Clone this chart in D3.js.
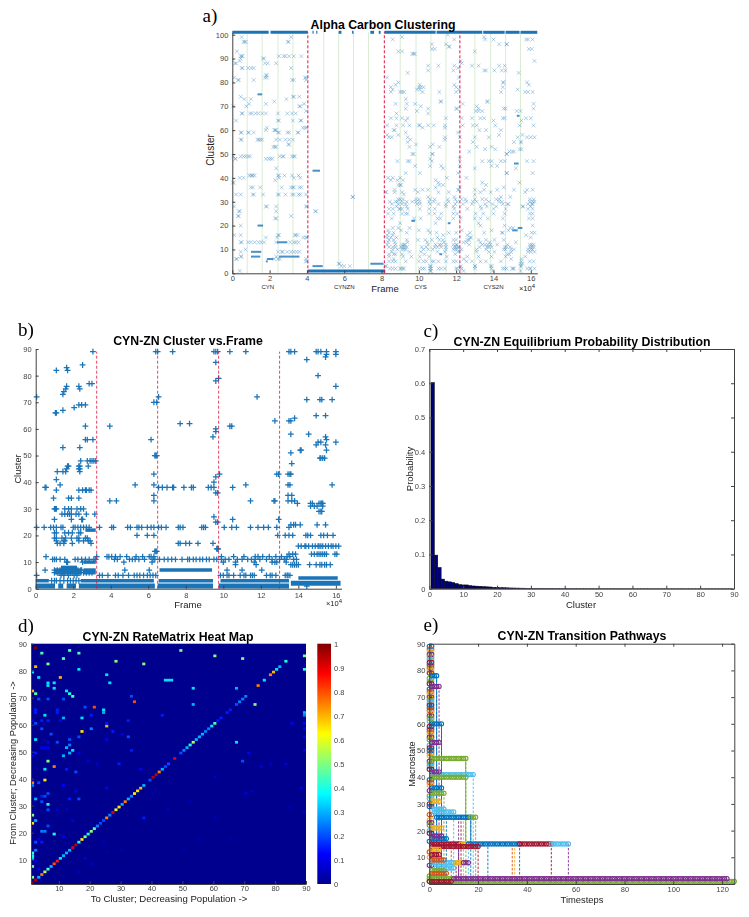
<!DOCTYPE html>
<html>
<head>
<meta charset="utf-8">
<script src="https://cdn.jsdelivr.net/npm/d3@7"></script>
<style>
  html, body { margin: 0; padding: 0; background: #fff; }
  svg { display: block; }
  text { font-family: "Liberation Sans", Arial, sans-serif; }
  .tick text { font-size: 7.5px; fill: #444; font-family: "Liberation Sans", Arial, sans-serif; }
</style>
</head>
<body>
<div id="chart"></div>
<script>
// -- panel a: cluster, frames (x 1e4)
let alphaBands = [
  [101, 0, 1.95], [101, 2.05, 4.05], [101, 4.3, 4.36], [101, 4.5, 4.56], [101, 5.7, 5.85], [101, 6.42, 6.5], [101, 7.4, 7.6], [101, 7.85, 7.95],
  [101, 8.15, 10.9], [101, 10.95, 13.4], [101, 13.45, 14.6], [101, 14.65, 15.4], [101, 15.45, 16.35],
  [1, 4.05, 8.2]
]
let alphaRuns = [
  [3, 4.3, 4.85], [4, 7.4, 8.1], [6, 1.85, 2.2], [5, 1.8, 1.9], [43, 4.3, 4.7], [20, 1.35, 1.65], [75, 1.35, 1.6],
  [9, 1, 1.55], [7, 1, 1.5], [13, 2.4, 2.95], [7, 2.5, 3.6], [66, 15.25, 15.4], [46, 15.1, 15.35], [19, 15.3, 15.55],
  [18, 15, 15.3], [21, 11.55, 11.7], [22, 9.6, 9.8], [8, 11.1, 11.25]
]
let alphaRows = [
  [100, [11.55]], [99, [.5, 3.15, 9.1, 13.5]], [98, [8.6, 11.9, 13.55, 14, 15.75, 15.85, 16.1]],
  [97, [.6, .66, .72, 2.98, 3.02]], [96, [10.7, 11.45, 14.3, 14.7, 14.72]], [95, [11.6, 11.65]],
  [94, [10.7, 10.85, 15.9, 16.05]], [93, [.25, 8.9, 9.1, 13]], [92, [9.65, 9.72, 9.78]],
  [91, [.45, .5, .55, 2.5, 2.75, 2.85, 3.05, 3.3, 3.7]], [90, [.45, 1.65, 1.7]], [89, [.4, 12.25, 16.2]],
  [88, [.15, .2, 1.75, 1.9, 2.35, 12.3]], [87, [10.5, 11.05, 11.9, 12.85, 13.2, 14.3, 14.6]],
  [86, [.5, .55, .85, 1.02, 1.15, 3.15, 12.1]], [85, [10.5, 11.85, 13.5, 13.6, 14.05, 14.45, 14.65]], [84, [9.4, 15.35]],
  [83, [1.8, 1.85]], [82, [.1, 1.75, 1.85, 3.9, 3.95, 8.3, 12.15]], [81, [.3, .35, 1.15, 3.2, 3.3, 3.95]],
  [80, [8.9, 14.5, 14.55, 15.8]], [79, [8.75, 10.05, 11.9, 15.9]], [78, [8.5, 10, 10.1, 10.25, 12, 14.5]],
  [77, [8.6, 9.9, 10.05, 12.15, 15.3]], [76, [8.5, 9, 9.1, 9.2, 10.2, 11.1, 12, 14.4, 15.7, 15.85, 16.1]],
  [74, [.45, 3.25, 3.3, 3.6]], [73, [.65, 1, 2.9, 9.3]], [72, [2.25, 11.15, 11.2, 13.65, 13.7]],
  [71, [.9, 1.8, 3.85, 8.75, 9.35, 9.8, 12.35, 16.15]], [70, [.05, .75, 3.6, 3.65, 10.1, 13.1]],
  [69, [9.3, 10.5, 12, 12.05, 13.2, 14.55, 14.65, 16.15]], [68, [3.95, 9.9, 13.05, 13.2, 13.4, 15.25, 15.45]],
  [67, [.5, .55, .95, 1.05, 1.25, 1.4, 1.6, 1.8, 2.45, 2.95, 3.2, 3.4, 8.8, 10.5]],
  [65, [8.5, 8.8, 9.1, 9.4, 11.45, 12.3, 12.85, 13.3, 13.5, 14.5, 14.6, 15.75, 16]],
  [64, [.2, 2.45, 2.5, 3.25, 3.65, 3.7, 9.3, 14, 15.5]],
  [62, [8.3, 8.8, 9.15, 9.5, 10, 10.05, 10.5, 10.8, 11.4, 12.35, 12.9, 13.1, 14.1, 15.4, 16.15]],
  [61, [1.85, 3.78, 3.9, 3.98, 11.4, 10.2]], [60, [2.25, 2.3, 2.35, 1.8, 8.65, 8.7, 13.6, 13.25, 14.4]],
  [59, [.45, .5, .85, .88, 1.15, 2.45, 2.5, 2.95, 3.05, 3.5, 3.55, 9.3, 12.1]],
  [58, [8.3, 14.3, 15.55, 8.9]], [57, [8.4, 8.55, 9.4, 11.4, 12.2, 13, 13.75, 15.3, 15.8, 16, 16.2]],
  [56, [.45, .5, 1.35, 1.42, 1.5, 1.6, 2.35, 2.55, 2.85, 3.05, 3.25, 9.55, 11.4]],
  [55, [9.4, 12.9, 15.1, 15.45, 15.5]], [54, [3, 3.05, 10.75, 9.85]], [53, [2.2, 2.28, 2.35, 9.5, 10.6, 13.1, 13.9, 11.1]],
  [52, [13.55, 14.1, 15.4, 15.5]], [51, [14.85, 15, 15.1, 12.7]], [50, [9.65, 9.72, 10.7, 10.75, 14.7, 14.72]],
  [49, [.05, .45, .6, .72, .85, .95, 2.55, 2.7, 2.75, 3.2, 3.3, 3.35]],
  [48, [.15, .18, 1.8, 1.95, 2.05, 2.15, 12.2, 10.6]],
  [47, [8.85, 9.4, 9.5, 10.7, 13.4, 13.75, 13.9, 14.4, 14.6, 15.8, 16.15]],
  [45, [11.2, 12.2, 13.9, 14.2, 9.8, 10.6]], [44, [2.35, 11.3, 13, 15.2]],
  [42, [10.05, 14.7, 14.72, 16.1, 12.1, 9.3]],
  [41, [.9, 1, 1.05, 1.1, 1.2, 2.45, 2.5, 2.8, 3.2, 3.55]], [40, [.4, .6, 2.5, 3.3, 3.65, 8.35, 8.6, 9, 11.5, 12.55]],
  [39, [2.3, 8.5, 8.85, 9.15, 10.9]], [38, [.03, .08, 11.05, 13.4, 15.4]],
  [37, [8.9, 9, 9.05, 11.1, 11.3, 13.6]],
  [36, [1, 1.1, 1.5, 2.65, 3.15, 3.25, 3.3, 3.6, 3.7, 10.9, 12.2, 14.55]],
  [35, [8.7, 9.8, 10.2, 10.5, 12.1, 12.15, 13, 13.5, 14.2, 15.1, 15.8, 16.1]],
  [34, [8.2, 8.25, 8.7, 9.1, 9.95, 11.05, 11.6, 13.3, 13.85, 15.7]],
  [33, [.2, .45, 1.1, 1.15, 1.65, 2.45, 2.5, 2.85, 3.2, 3.3, 3.55, 3.65, 3.95, 9.2, 13]],
  [32, [6.45, 6.47, 10.5, 14.4, 14.9, 11.9]],
  [31, [8.9, 9, 9.15, 9.85, 10, 10.6, 10.85, 11.55, 11.95, 12.3, 12.5, 13, 13.4, 13.6, 14.15, 14.3, 15.95, 16.15]],
  [30, [8.45, 8.75, 8.85, 9.1, 9.35, 9.65, 9.85, 10.05, 10.55, 10.8, 11.6, 12.05, 12.55, 12.9, 13.1, 13.75, 14.3, 14.45, 15.95, 16.1, 16.2]],
  [29, [8.55, 8.9, 9.1, 9.3, 9.9, 10.05, 10.6, 11.05, 11.45, 11.95, 12.35, 12.85, 13.55, 13.95, 14.5, 14.75, 14.8, 15.85, 16.05, 16.1]],
  [28, [.1, 1.8, 1.85, 2.35, 3.95, 4, 8.8, 9.35, 11.45, 11.85, 13.3, 13.65, 14.15, 15.55, 15.6, 16]],
  [27, [8.4, 8.6, 8.95, 9, 9.1, 9.4, 10.05, 10.55, 10.85, 11.9, 12.6, 13.35, 14, 14.65, 15.85, 16.1]],
  [26, [.35, .4, 4.45, 4.48, 2.35]],
  [25, [8.35, 8.65, 9.1, 9.3, 9.4, 10.55, 10.85, 11.2, 11.85, 12.05, 13.05, 13.45, 14, 14.6, 15.95, 16.1]],
  [24, [.3, .35, 3.15]], [23, [2.3, 2.35, 8.55, 9.75, 10.1, 11, 11.15, 11.85, 12.25, 13, 13.3, 13.7, 14.5, 15.9, 16.1]],
  [21, [9, 10.9, 13.2]], [20, [.45, 13.3, 14.6, 16.1]],
  [19, [8.6, 8.9, 9.5, 14.9, 15.05]], [18, [8.35, 9.05, 10, 10.5, 12.3, 13.9, 14.8]],
  [17, [8.4, 8.65, 9.35, 10.6, 10.95, 11.6, 12, 12.75, 13.5, 14.45, 14.5, 16.05, 16.2]],
  [16, [.1, .45, 2.45, 2.5, 3.35, 3.4, 3.5, 8.3, 8.6, 11.3, 12.6, 15.75]],
  [15, [1.8, 2.4, 3.8, 3.95, 4, 8.3, 8.5, 8.8, 11, 12.75, 12.8, 16]],
  [14, [8.4, 8.65, 9.35, 9.95, 10.35, 10.7, 11.1, 11.3, 11.85, 12, 12.6, 12.7, 13.2, 13.6, 14.05, 14.55]],
  [13, [.45, .5, .85, 1, 1.2, 1.4, 1.55, 1.7, 2.35, 3.1, 3.3, 3.4, 3.55, 8.35, 8.7, 9.4, 10.45, 11.35, 12.4, 12.55, 13.3, 13.8, 15.2]],
  [12, [8.3, 8.75, 9.1, 9.2, 9.25, 10.5, 10.9, 11.1, 11.2, 11.45, 11.85, 12, 12.05, 12.7, 13.4, 13.55, 13.7, 13.85, 14.2, 14.75, 15.95, 16.05, 16.15]],
  [11, [8.4, 8.6, 8.75, 9.05, 9.15, 9.25, 9.35, 10.15, 10.4, 10.85, 11, 11.2, 11.45, 11.9, 12, 12.1, 13.25, 13.65, 13.75, 13.9, 14.6, 14.7, 14.9, 15.95, 16.05, 16.15]],
  [10, [.7, 8.6, 8.85, 9.1, 9.2, 9.3, 10.25, 10.5, 10.75, 11.45, 11.85, 11.95, 12.05, 12.2, 12.3, 13.1, 13.6, 14.55, 14.65, 14.95, 15.1, 15.85, 16, 16.1]],
  [9, [.45, 2.45, 2.65, 2.7, 2.95, 3.15, 3.3, 3.45, 3.6, 8.55, 9.5, 10.1, 11, 11.4, 12.1, 13.1, 13.75, 14.05, 14.95, 15.85, 16, 16.2]],
  [8, [8.4, 8.65, 8.75, 9.1, 10.3, 11.95, 14.75, 14.85]],
  [7, [.45, .5, 2.35, 8.4, 9.15, 9.6, 10.05, 10.55, 11.5, 12.6, 13.2, 13.9, 14.65, 15.7]],
  [6, [.2, .25, 2.25, 2.45, 2.55, 3.95, 12.4, 8.65, 15.5, 14.95]],
  [5, [3.95, 4, 8.4, 8.6, 8.75, 9.3, 10, 10.25, 10.4, 10.7, 10.8, 11.05, 11.45, 11.85, 12, 12.55, 12.85, 13.3, 13.6, 14.4, 15.5, 15.95, 16.15]],
  [4, [5.7, 5.75, 15.45, 15.55]], [3, [5.85, 6, 6.3, 8.2, 8.25, 10.6, 10.65, 12.25, 13, 13.02, 13.85, 13.9, 15.45, 15.5]],
  [2, [8.45, 8.6, 8.75, 9, 9.05, 9.15, 9.2, 10.05, 10.2, 10.3, 10.6, 10.65, 11.05, 11.2, 11.4, 12, 12.05, 12.2, 12.3, 13, 13.9, 14.5, 14.6, 14.7, 15, 15.05, 15.1, 15.8, 15.95, 16, 16.2]],
  [1, [.4, 10.6, 10.65, 12.4, 13.95, 15.45]]
]
let alphaGreenLines = [.8, 1.6, 2.45, 3.25, 4.9, 5.7, 6.5, 7.3, 9, 9.85, 10.65, 11.45, 13, 13.85, 14.65, 15.45]
let alphaRedLines = [4.05, 8.15, 12.2]
let alphaSystems = [[1.9, 'CYN'], [6, 'CYNZN'], [10.1, 'CYS'], [14, 'CYS2N']]

// -- panel b
let frameBands = [
  [1, 0, 1.03], [1, 1.2, 1.47], [1, 1.65, 2.15], [1, 2.3, 6.35], [1, 6.5, 9.45], [1, 9.75, 13.5], [2, 13.6, 16.25]
]
let frameRuns = [
  [3, 0, .7], [3, 2.4, 6.3], [3, 6.55, 9.45], [3, 9.85, 13.5], [7, 6.6, 9.4], [22, 2.65, 3.2], [10, 2.55, 3.2],
  [7, 2.55, 3.2], [8, 1.35, 2.2], [6, 1, 2.45], [7, 1, 2.45], [6, 2.55, 3.2], [4, 14, 16.1]
]
let frameRows = [
  [89, [3.05, 6.4, 6.5, 7.3, 9.5, 9.6, 9.7, 10.35, 11.2, 13.5, 13.6, 13.8, 14.95, 15.05, 15.2, 15.5, 16]],
  [88, [15.5, 16]], [87, [15.45]], [86, [14.45]], [85, [9.6]], [84, [2.5]], [83, [1.65]], [82, [1.1, 1.7]], [80, [15.05]], [79, [9.75]], [78, [9.6]],
  [77, [2.85, 3]], [76, [1.65, 2.3, 16]], [75, [1.6, 2.35]], [74, [1.5]], [73, [1.45]], [72, [.05, 6.55, 11.8]],
  [71, [14.45, 15.15, 15.25, 15.8]], [70, [6.3, 6.45]], [69, [2.3, 2.45, 2.65]], [68, [2.05]], [67, [1.45]], [66, [1.05, 1.1]],
  [65, [14.95, 15.45]], [64, [13.8]], [63, [12.75, 13.5, 13.6]], [62, [7.7, 8.2]], [61, [2.65, 3.95, 10.35, 10.45]],
  [60, [9.6]], [59, [9.6]], [58, [13.6, 14.55]], [57, [9.45, 15.45]], [56, [2.65, 2.75, 3.05, 6.15, 15.5]], [55, [15.05, 15.2, 16]],
  [54, [14.95, 15.45]], [53, [1.45, 2.35]], [52, [14.1, 14.15, 15.5]], [51, [13.6]], [50, [6.35, 6.4, 6.45]],
  [49, [15.15, 15.2, 15.3, 15.4]], [48, [2.4, 2.75, 2.9, 3, 3.1, 3.2]], [47, [13.65]], [46, [1.7, 1.75, 2.3, 2.35, 2.8]],
  [45, [1.65, 2.3, 2.35]], [44, [1.15, 1.45, 1.6, 2.35]], [43, [6.3, 9.8, 12.85, 12.95, 13.45, 13.55, 13.6]], [42, [9.6]], [41, [1.1]], [40, [9.5]],
  [39, [1.3, 5.3, 6.3, 11.2, 13.45, 13.55, 15.8]], [38, [.5, .55, 6.55, 6.75, 7, 7.3, 7.35, 7.9, 8.3, 8.4, 9.2, 9.35, 9.5, 10.5]],
  [37, [1.1, 2.3, 2.5, 2.65, 2.7, 2.85, 2.95]], [36, [9.6, 9.7]], [35, [6.3, 13.45, 13.65]], [34, [.95, 1.75, 1.9, 2.3]],
  [33, [3.95, 4.3, 6.3, 11.45, 12.7, 12.75, 13.45, 13.65, 13.8]], [32, [14.65, 14.75, 15.1, 15.2, 15.25, 15.3, 13.95]],
  [31, [14.65, 14.85, 15, 15.3]], [30, [1, 1.05, 1.1, 1.55, 1.75, 1.9, 2.2, 2.4, 2.55]], [29, [15.1, 15.2, 15.25]],
  [28, [1.4, 1.55, 1.7, 1.8, 1.9, 2.15, 2.3, 2.7, 3.15]], [27, [9.5]], [26, [1, 1.9, 2.45, 2.5, 10.5, 12.95]], [25, [9.6, 9.7]],
  [24, [13.6, 13.75, 13.85, 14.1, 15, 15.45]],
  [23, [.05, .45, .8, .95, 1.1, 1.35, 1.45, 2, 2.1, 2.25, 2.4, 2.55, 2.7, 2.85, 3.4, 4.05, 4.15, 4.9, 5.05, 5.4, 5.5, 5.65, 5.95, 6.15, 6.3, 6.55, 6.7, 6.95, 7.6, 7.7, 7.85, 8.85, 8.95, 9.05, 10.05, 10.45, 10.7, 11.45, 11.85, 12.15, 12.4, 12.85, 13.5]],
  [21, [1, 1.1, 1.55, 1.75, 1.95, 2.3, 2.4]],
  [20, [5.4, 5.95, 6.3, 12.9, 13.3, 13.5, 13.7, 14.4, 14.5, 14.65, 15.2, 15.35, 15.55, 15.85]],
  [19, [1, 1.1, 1.4, 1.6, 1.9, 2.2, 2.3, 2.65, 2.75]], [18, [1.1, 1.5, 1.55, 2.3, 2.55, 2.8, 2.9]],
  [17, [1.15, 1.3, 1.5, 1.95, 2.95, 7.6, 7.7, 8, 8.2, 8.65, 9.45]],
  [16, [14, 14.15, 14.35, 14.4, 14.55, 14.75, 14.9, 15.05, 15.1, 15.2, 15.3, 15.45, 15.6, 15.75, 15.85, 16, 16.15]],
  [15, [9.65, 9.7, 9.72]], [14, [6.35, 6.4, 6.45]],
  [13, [13.5, 13.7, 13.85, 14.7, 14.85, 15, 15.1, 15.2, 15.3, 15.4, 15.5, 15.95, 16.05]],
  [12, [.55, 3.25, 3.8, 3.9, 4.05, 4.25, 4.5, 4.85, 5.35, 5.7, 6.05, 6.15, 6.3, 9.9, 10.55, 11.1, 11.7, 11.85, 12.1, 12.45, 12.8, 13.1, 13.4, 13.55]],
  [11, [.9, 1, 1.1, 1.3, 1.55, 2.1, 2.25, 2.45, 2.65, 2.85, 3.1, 3.2, 4.2, 4.35, 5, 5.15, 5.3, 5.5, 5.8, 6.25, 6.35, 6.6, 6.85, 7.05, 7.25, 7.45, 7.8, 8.1, 8.2, 8.4, 8.55, 8.75, 8.9, 9.1, 9.25, 9.5, 9.65, 9.9, 10.1, 10.3, 10.75, 11, 11.3, 11.5, 11.7, 11.95, 12.3, 12.6, 13, 13.25, 13.35, 13.75, 13.9]],
  [10, [1.65, 1.7, 2.5, 4.7, 6.2, 10, 10.65, 11.65, 12.6, 12.75, 12.85, 13.35]],
  [9, [13.6, 13.7, 13.8, 13.9, 14, 14.6, 14.95, 15.15, 15.25, 15.4, 15.5, 15.7, 10.65, 11.75]],
  [7, [.5, 1, 1.15, 1.3, 1.5, 1.65, 1.8, 1.95, 2.1, 2.25, 2.4, 2.45, 4.75, 6.05, 10.2, 11, 12.05]],
  [6, [1, 1.15, 1.3, 1.45, 1.55, 1.7, 1.85, 1.95, 2.1, 2.2, 2.3, 2.4, 2.55, 2.7, 2.85, 3]],
  [5, [.05, 1.35, 1.5, 1.75, 2.05, 2.2, 3.4, 3.55, 3.85, 4.25, 4.4, 4.65, 4.95, 5.25, 5.4, 5.55, 5.75, 5.95, 6.1, 6.25, 6.4, 9.85, 10, 10.2, 10.3, 10.55, 10.9, 11.1, 11.2, 11.45, 11.55, 11.65, 12.3, 12.5, 12.6, 12.8, 13.3, 13.4, 13.45, 13.55]],
  [3, [.85, 1, 1.1, 1.3, 1.5, 1.7, 1.85, 2, 2.15, 2.3]],
  [1, [14.45]]
]
let frameRedLines = [3.25, 6.5, 9.75, 13]

// -- panel c, cluster 1 upward
let probabilities = [
  .602, .098, .062, .028, .022, .02, .018, .015, .012, .011, .011, .009, .008, .0075, .007, .006, .0055, .005, .004, .0035,
  .003, .0028, .0025, .0022, .002, .0018, .0016, .0015, .0013, .0012, .0011, .001, .0009, .0009, .0008, .0008, .0007, .0007, .0006, .0006,
  .0006, .0005, .0005, .0005, .0005, .0004, .0004, .0004, .0004, .0003, .0003, .0003, .0003, .0003, .0003, .0002, .0002, .0002, .0002, .0002,
  .0002, .0002, .0002, .0002, .0001, .0001, .0001, .0001, .0001, .0001, .0001, .0001, .0001, .0001, .0001, .0001, .0001, .0001, .0001, .0001,
  .0001, .0001, .0001, .0001, .0001, .0001, .0001, .0001, .0001
]

// -- panel d: [to, from, value]
let rateDiagonal = [
  1, .95, .3, .75, .55, .45, .3, .8, .85, .35, .3, .3, .3, .9, .95, .4, .65, .5, .4, .5, .45, .25, .2, .2, .75, .25, .9, .6, .65, .3,
  .75, .3, .25, .65, .65, .7, .3, 0, .2, .95, .95, .75, .3, .2, .2, 0, .9, 0, .2, .25, .3, .4, .55, .3, .3, .3, .25, .25, .35, .45,
  .15, .15, 0, .15, .15, 0, .2, .25, .25, .25, 0, 0, 0, .75, 0, .35, 0, .75, .7, .35, .3, 0, .4
]
let rateCells = [
  [2, 88, 1], [4, 86, .45], [6, 82, .5], [13, 87, .45], [16, 86, .45], [11, 84, .45], [28, 83, .5], [37, 82, .5], [49, 87, .5], [60, 85, .5], [69, 84, .5],
  [89, 85, .5], [89, 80, .4], [2, 81, .7], [1, 79, .35], [16, 80, .35], [25, 78, .35], [26, 75, .35], [3, 77, .35], [10, 77, .7],
  [6, 75, .35], [6, 74, .35], [8, 75, .35], [8, 73, .35], [44, 76, .35], [45, 76, .35], [46, 76, .35], [1, 72, .7], [2, 71, .45],
  [12, 72, .35], [13, 71, .4], [14, 70, .45], [3, 69, .2], [6, 69, .2], [11, 69, .2], [33, 70, .2], [34, 68, .8], [53, 73, .35], [53, 67, .3], [67, 73, .3], [73, 67, .5],
  [18, 66, .2], [21, 66, .8], [20, 63, .15], [24, 65, .35], [24, 64, .3], [25, 59, .7], [2, 65, .15], [2, 64, .15], [9, 65, .15], [9, 64, .15],
  [5, 63, .35], [11, 62, .3], [17, 62, .35], [43, 63, .15], [32, 61, .15], [1, 61, .1], [2, 60, .2], [4, 61, .15], [6, 61, .15], [10, 61, .12], [25, 60, .15],
  [4, 58, .2], [20, 58, .25], [17, 57, .65], [27, 57, .15], [16, 55, .2], [30, 56, .1], [32, 55, .2], [25, 54, .12], [2, 54, .35], [7, 56, .2], [9, 53, .2], [6, 53, .1],
  [13, 54, .2], [13, 52, .25], [12, 51, .3], [14, 50, .35], [13, 49, .3], [11, 48, .3], [4, 51, .1], [5, 51, .1], [6, 51, .12], [1, 48, .1], [2, 49, .15], [16, 49, .1], [33, 50, .15],
  [6, 46, .5], [8, 44, .75], [5, 43, .35], [12, 43, .15], [15, 42, .2], [29, 45, .15], [36, 43, .12], [19, 46, .08], [22, 45, .06],
  [69, 46, .2], [67, 53, .35], [71, 49, .12], [75, 44, .08], [78, 45, .06], [83, 45, .08], [85, 60, .12], [89, 64, .3], [89, 63, .25], [89, 60, .12], [89, 58, .12], [89, 55, .1], [89, 50, .1],
  [1, 38, .75], [1, 37, .25], [5, 39, .65], [3, 38, .2], [11, 37, .12], [4, 33, .15], [2, 32, .3], [6, 34, .2], [5, 33, .2], [4, 31, .2], [6, 30, .4], [6, 28, .2], [13, 32, .15], [16, 32, .2], [15, 35, .1], [25, 36, .12],
  [1, 26, .5], [1, 23, .65], [2, 24, .3], [6, 22, .2], [4, 20, .25], [5, 20, .25], [8, 19, .4], [11, 18, .12], [2, 16, .2], [4, 16, .15], [3, 17, .12],
  [2, 13, .25], [1, 12, .45], [1, 11, .4], [1, 10, .35], [1, 7, .5], [1, 3, .5], [2, 9, .1], [3, 6, .1], [37, 25, .15], [9, 28, .08], [14, 24, .08], [12, 28, .06],
  [18, 10, .07], [20, 8, .06], [30, 13, .04], [24, 16, .04], [45, 28, .05], [50, 13, .03], [60, 25, .05], [70, 34, .07], [72, 35, .05], [60, 40, .05], [52, 31, .04], [65, 17, .03], [55, 17, .03], [40, 34, .04], [25, 12, .03], [88, 36, .08], [89, 27, .06], [84, 29, .04], [16, 5, .05]
]
let rateTicks = [10, 20, 30, 40, 50, 60, 70, 80, 90]
let colorbarTicks = [0, .1, .2, .3, .4, .5, .6, .7, .8, .9, 1]

// -- panel e: [macrostate, first step, last step, color index]
let pathwayRuns = [
  [1, 0, 125, 4], [2, 0, 10, 4], [2, 10, 122, 3], [1, 0, 9, 6], [47, 1, 15, 4], [41, 1, 18, 5], [40, 1, 15, 4], [25, 3, 17, 0], [25, 17, 19, 4], [27, 2, 10, 5], [28, 2, 6, 5],
  [15, 1, 13, 6], [15, 13, 16, 2], [15, 16, 37, 0], [15, 37, 50, 6], [15, 50, 57, 5], [14, 1, 20, 6], [60, 1, 5, 0], [53, 1, 4, 3], [74, 1, 4, 3], [78, 1, 3, 0], [42, 1, 4, 3], [36, 1, 5, 0],
  [34, 1, 6, 4], [31, 1, 4, 2], [21, 1, 5, 2], [17, 1, 7, 0], [18, 1, 5, 3], [8, 1, 11, 5], [8, 11, 14, 2], [8, 14, 16, 3], [6, 3, 10, 5], [5, 1, 6, 4], [4, 1, 7, 1], [11, 1, 4, 6], [9, 1, 6, 1], [13, 1, 4, 2]
]
let pathwayStack = [
  89, 88, 87, 86, 85, 84, 83, 82, 81, 80, 79, 77, 76, 75, 73, 72, 71, 70, 69, 68, 67, 66, 65, 64, 63, 62, 61, 59, 58, 57, 56, 55, 54, 52, 51, 50, 49, 48, 46, 45, 44, 43, 39, 38, 37,
  35, 33, 32, 30, 29, 26, 24, 23, 22, 20, 19, 16, 12, 10, 7, 3
]
// -- [step, top state, color index]
let pathwayDrops = [
  [57, 15, 3], [50, 15, 6], [37, 15, 0], [35, 15, 2], [34, 15, 1], [24, 14, 0], [20, 14, 6], [19, 25, 4], [18, 41, 5], [17, 25, 0], [15, 47, 4], [16, 15, 5], [14, 25, 2],
  [13, 25, 6], [12, 25, 3], [10, 27, 5], [7, 25, 0], [5, 60, 0], [4, 74, 3], [3, 78, 0], [6, 34, 4], [9, 14, 1], [11, 8, 6]
]
// -- [step, top state, bottom state, color index]
let pathwaySolid = [[14.9, 47, 15, 4], [5, 60, 0, 0], [3, 78, 0, 0], [17, 25, 15, 0], [12, 15, 2, 3]]
let pathwayColors = ['#0072BD', '#D95319', '#EDB120', '#7E2F8E', '#77AC30', '#4DBEEE', '#A2142F']

let blue = '#1a74b8'
let axisColor = '#404040'

let svg = d3.select('#chart').append('svg')
            .attr('width', 749)
            .attr('height', 917)

svg.append('rect').attr('width', 749).attr('height', 917).attr('fill', '#fff')

function addText(label, x, y, size, extra) {
  let t = svg.append('text')
             .attr('x', x)
             .attr('y', y)
             .attr('text-anchor', 'middle')
             .attr('font-size', size)
             .attr('fill', '#222')
             .text(label)
  if (extra) extra(t)
  return t
}

function addTitle(label, x, y) {
  addText(label, x, y, 12.3, t => t.attr('font-weight', 'bold').attr('fill', '#000'))
}

function addYLabel(label, x, y, size) {
  addText(label, 0, 0, size, t => t.attr('transform', 'translate(' + x + ',' + y + ') rotate(-90)'))
}

function addPanelLetter(label, x, y) {
  addText(label, x, y, 19, t => t.style('font-family', '"Liberation Serif", serif').attr('fill', '#000'))
}

function addExponent(x, y) {
  let t = addText('×10', x, y, 7.5)
  t.append('tspan').attr('dy', -3).attr('font-size', 6).text('4')
}

function drawAxes(x, y, xValues, yValues, xFormat, yFormat, box, xPadding) {
  let xr = x.range(), yr = y.range()
  let xAxis = d3.axisBottom(x).tickValues(xValues).tickFormat(xFormat).tickSizeInner(-3).tickSizeOuter(0).tickPadding(xPadding)
  let yAxis = d3.axisLeft(y).tickValues(yValues).tickFormat(yFormat).tickSizeInner(-3).tickSizeOuter(0).tickPadding(4)
  svg.append('g').attr('transform', 'translate(0,' + yr[0] + ')').call(xAxis)
  svg.append('g').attr('transform', 'translate(' + xr[0] + ',0)').call(yAxis)
  if (box) {
    svg.append('g').attr('transform', 'translate(0,' + yr[1] + ')')
       .call(d3.axisTop(x).tickValues(xValues).tickFormat('').tickSizeInner(-3).tickSizeOuter(0))
    svg.append('g').attr('transform', 'translate(' + xr[1] + ',0)')
       .call(d3.axisRight(y).tickValues(yValues).tickFormat('').tickSizeInner(-3).tickSizeOuter(0))
  }
  svg.selectAll('.domain, .tick line').attr('stroke', axisColor)
}

let plusPath = d3.symbol(d3.symbolPlus, 13)()
let timesPath = d3.symbol(d3.symbolTimes, 11)()

function flattenRows(rows) {
  return rows.flatMap(row => row[1].map(v => ({ cluster: row[0], frame: v })))
}

// -- panel a ---------------------------------------------------------------
let xA = d3.scaleLinear().domain([0, 16.35]).range([232.3, 537.3])
let yA = d3.scaleLinear().domain([0, 101]).range([273.3, 32.3])
let gA = svg.append('g').style('filter', 'blur(0.45px)')

gA.selectAll('.green').data(alphaGreenLines).enter().append('line')
  .attr('x1', d => xA(d)).attr('x2', d => xA(d))
  .attr('y1', yA(0)).attr('y2', yA(101))
  .attr('stroke', '#cfe8c8').attr('stroke-width', .8)

gA.selectAll('.band').data(alphaBands).enter().append('line')
  .attr('x1', d => xA(d[1])).attr('x2', d => xA(d[2]))
  .attr('y1', d => yA(d[0])).attr('y2', d => yA(d[0]))
  .attr('stroke', blue).attr('stroke-width', 3)

gA.selectAll('.run').data(alphaRuns).enter().append('line')
  .attr('x1', d => xA(d[1])).attr('x2', d => xA(d[2]))
  .attr('y1', d => yA(d[0])).attr('y2', d => yA(d[0]))
  .attr('stroke', blue).attr('stroke-width', 2).attr('stroke-opacity', .8)

gA.selectAll('.dot').data(flattenRows(alphaRows)).enter().append('path')
  .attr('d', timesPath)
  .attr('transform', d => 'translate(' + xA(d.frame) + ',' + yA(d.cluster) + ')')
  .attr('fill', 'none').attr('stroke', blue).attr('stroke-width', .8).attr('stroke-opacity', .42)

gA.selectAll('.red').data(alphaRedLines).enter().append('line')
  .attr('x1', d => xA(d)).attr('x2', d => xA(d))
  .attr('y1', yA(0)).attr('y2', yA(101))
  .attr('stroke', '#e0143c').attr('stroke-width', 1).attr('stroke-dasharray', '3,2')

drawAxes(xA, yA, d3.range(0, 17, 2), d3.range(0, 101, 10), d3.format('d'), d3.format('d'), false, 2)
alphaSystems.forEach(s => addText(s[1], xA(s[0]), 289, 6))
addTitle('Alpha Carbon Clustering', 383, 29)
addYLabel('Cluster', 214, 150, 10)
addText('Frame', 385, 292, 9.5)
addExponent(527, 291)
addPanelLetter('a)', 210, 22)

// -- panel b ---------------------------------------------------------------
let xB = d3.scaleLinear().domain([0, 16.3]).range([35.7, 341.5])
let yB = d3.scaleLinear().domain([0, 90]).range([588.7, 349])
let gB = svg.append('g').style('filter', 'blur(0.35px)')

gB.selectAll('.band').data(frameBands).enter().append('line')
  .attr('x1', d => xB(d[1])).attr('x2', d => xB(d[2]))
  .attr('y1', d => yB(d[0])).attr('y2', d => yB(d[0]))
  .attr('stroke', blue).attr('stroke-width', 5)

gB.selectAll('.run').data(frameRuns).enter().append('line')
  .attr('x1', d => xB(d[1])).attr('x2', d => xB(d[2]))
  .attr('y1', d => yB(d[0])).attr('y2', d => yB(d[0]))
  .attr('stroke', blue).attr('stroke-width', 3.5)

gB.selectAll('.dot').data(flattenRows(frameRows)).enter().append('path')
  .attr('d', plusPath)
  .attr('transform', d => 'translate(' + xB(d.frame) + ',' + yB(d.cluster) + ')')
  .attr('fill', 'none').attr('stroke', blue).attr('stroke-width', 1.25)

gB.selectAll('.red').data(frameRedLines).enter().append('line')
  .attr('x1', d => xB(d)).attr('x2', d => xB(d))
  .attr('y1', yB(0)).attr('y2', yB(89))
  .attr('stroke', '#e0143c').attr('stroke-width', .8).attr('stroke-dasharray', '3,2')

drawAxes(xB, yB, d3.range(0, 17, 2), d3.range(0, 91, 10), d3.format('d'), d3.format('d'), false, 4)
addTitle('CYN-ZN Cluster vs.Frame', 188, 345)
addYLabel('Cluster', 21, 469, 9.2)
addText('Frame', 188, 608, 9.5)
addExponent(334, 606)
addPanelLetter('b)', 26, 336)

// -- panel c ---------------------------------------------------------------
let xC = d3.scaleLinear().domain([0, 90]).range([429.3, 734])
let yC = d3.scaleLinear().domain([0, .7]).range([588.7, 349])

svg.selectAll('.prob').data(probabilities).enter().append('rect')
   .attr('x', (d, i) => xC(i + .5))
   .attr('width', xC(1) - xC(0))
   .attr('y', d => yC(d))
   .attr('height', d => yC(0) - yC(d))
   .attr('fill', '#00007a')
   .attr('stroke', '#000')
   .attr('stroke-width', .5)

drawAxes(xC, yC, d3.range(0, 91, 10), d3.range(0, .71, .1), d3.format('d'), d => d ? d3.format('.1f')(d) : '0', true, 3)
addTitle('CYN-ZN Equilibrium Probability Distribution', 582, 346)
addYLabel('Probability', 413, 469, 9.5)
addText('Cluster', 581, 608, 9.5)
addPanelLetter('c)', 431, 337)

// -- panel d ---------------------------------------------------------------
let jet = d3.scaleLinear()
            .domain([0, .125, .375, .625, .875, 1])
            .range(['#00008f', '#0000ff', '#00ffff', '#ffff00', '#ff0000', '#800000'])
let cellIds = d3.range(1, 90)
let xD = d3.scaleBand().domain(cellIds).range([31, 306])
let yD = d3.scaleBand().domain(cellIds).range([884, 643.7])
let xDTicks = d3.scaleLinear().domain([1, 90]).range([31, 306])
let yDTicks = d3.scaleLinear().domain([1, 90]).range([884, 643.7])

svg.append('rect')
   .attr('x', 31).attr('y', 643.7)
   .attr('width', 275).attr('height', 240.3)
   .attr('fill', jet(0))

let gD = svg.append('g').style('filter', 'blur(0.4px)')

gD.selectAll('.cell').data(rateCells).enter().append('rect')
  .attr('x', d => xD(d[0])).attr('y', d => yD(d[1]))
  .attr('width', xD.bandwidth()).attr('height', yD.bandwidth())
  .attr('fill', d => jet(d[2]))

gD.selectAll('.diag').data(rateDiagonal).enter().append('rect')
  .attr('x', (d, i) => xD(i + 1)).attr('y', (d, i) => yD(i + 1))
  .attr('width', xD.bandwidth()).attr('height', yD.bandwidth())
  .attr('fill', d => jet(d))

drawAxes(xDTicks, yDTicks, rateTicks, rateTicks, d3.format('d'), d3.format('d'), false, 2)
addTitle('CYN-ZN RateMatrix Heat Map', 168, 641)
addYLabel('From Cluster; Decreasing Population ->', 16, 763, 9.3)
addText('To Cluster; Decreasing Population ->', 169, 902, 9.6)
addPanelLetter('d)', 26, 632)

// -- colorbar
let yBar = d3.scaleLinear().domain([0, 1]).range([884, 643.7])
let barGradient = svg.append('defs').append('linearGradient')
                     .attr('id', 'jet').attr('x1', 0).attr('x2', 0).attr('y1', 1).attr('y2', 0)
jet.domain().forEach(d => {
  barGradient.append('stop').attr('offset', d).attr('stop-color', jet(d))
})
svg.append('rect')
   .attr('x', 317.3).attr('y', 643.7)
   .attr('width', 13.7).attr('height', 240.3)
   .attr('fill', 'url(#jet)')
svg.append('g').attr('transform', 'translate(331,0)')
   .call(d3.axisRight(yBar).tickValues(colorbarTicks).tickFormat(d => d3.format('.1~f')(d)).tickSize(0).tickPadding(3))
   .call(g => g.select('.domain').remove())

// -- panel e ---------------------------------------------------------------
let xE = d3.scaleLinear().domain([0, 125]).range([429.3, 734.3])
let yE = d3.scaleLinear().domain([0, 90]).range([884, 643.7])
let gE = svg.append('g').style('filter', 'blur(0.3px)')

gE.selectAll('.drop').data(pathwayDrops).enter().append('line')
  .attr('x1', d => xE(d[0])).attr('x2', d => xE(d[0]))
  .attr('y1', d => yE(d[1])).attr('y2', yE(0))
  .attr('stroke', d => pathwayColors[d[2]])
  .attr('stroke-width', .9)
  .attr('stroke-dasharray', '2.5,1.5')

gE.selectAll('.solid').data(pathwaySolid).enter().append('line')
  .attr('x1', d => xE(d[0])).attr('x2', d => xE(d[0]))
  .attr('y1', d => yE(d[1])).attr('y2', d => yE(d[2]))
  .attr('stroke', d => pathwayColors[d[3]])
  .attr('stroke-width', .9)

// one circle per timestep along each run
let runPoints = pathwayRuns.flatMap(r => d3.range(r[1], r[2] + 1).map(t => ({ t: t, state: r[0], color: r[3] })))
let stackPoints = pathwayStack.flatMap((s, i) => [0, 1].map(t => ({ t: t, state: s, color: i % 7 })))

gE.selectAll('.stack').data(stackPoints).enter().append('circle')
  .attr('cx', d => xE(d.t)).attr('cy', d => yE(d.state)).attr('r', 2.1)
  .attr('fill', 'none').attr('stroke', d => pathwayColors[d.color]).attr('stroke-width', 1.1)

gE.selectAll('.step').data(runPoints).enter().append('circle')
  .attr('cx', d => xE(d.t)).attr('cy', d => yE(d.state)).attr('r', 2.1)
  .attr('fill', 'none').attr('stroke', d => pathwayColors[d.color]).attr('stroke-width', 1.1)

drawAxes(xE, yE, d3.range(0, 121, 20), d3.range(0, 91, 10), d3.format('d'), d3.format('d'), true, 3)
addTitle('CYN-ZN Transition Pathways', 582, 640)
addYLabel('Macrostate', 415, 764, 9.2)
addText('Timesteps', 582, 903, 9.4)
addPanelLetter('e)', 431, 631)
</script>
</body>
</html>
